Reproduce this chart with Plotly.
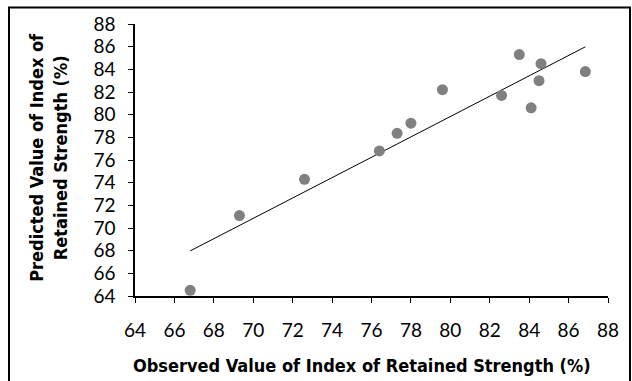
import numpy as np
import plotly.graph_objects as go

# Observed vs predicted index of retained strength (%)
observed = [66.8, 69.3, 72.6, 76.4, 77.3, 78.0, 79.6, 82.6, 83.5, 84.1, 84.5, 84.6, 86.85]
predicted = [64.5, 71.1, 74.3, 76.8, 78.35, 79.25, 82.2, 81.7, 85.3, 80.6, 83.0, 84.5, 83.8]

axis_ticks = list(range(64, 89, 2))

x_title = "Observed Value of Index of Retained Strength (%)"
y_title = "Predicted Value of Index of<br>Retained Strength (%)"

# Linear trend line through the data
slope, intercept = np.polyfit(observed, predicted, 1)
trend_x = [min(observed), max(observed)]
trend_y = [slope * v + intercept for v in trend_x]

W, H = 632, 381
L, R, T, B = 135, 24, 24, 84.5
pw, ph = W - L - R, H - T - B


def px_x(p):
    return (p - L) / pw


def px_y(p):
    return (H - B - p) / ph


tick_font = dict(family="Lato, Liberation Sans, Arial, sans-serif", size=19, color="#000000")
title_font = dict(family="Liberation Sans Narrow, Arial Narrow, DejaVu Sans Condensed, sans-serif",
                  size=18, color="#000000")

fig = go.Figure()
fig.add_trace(go.Scatter(
    x=trend_x, y=trend_y, mode="lines",
    line=dict(color="#000000", width=1), showlegend=False, hoverinfo="skip"))
fig.add_trace(go.Scatter(
    x=observed, y=predicted, mode="markers",
    marker=dict(color="#808080", size=11, line=dict(width=0)),
    showlegend=False))

axis_common = dict(
    range=[64, 88], tickvals=axis_ticks, ticktext=[str(t) for t in axis_ticks],
    showgrid=False, zeroline=False, showline=True, linecolor="#000000",
    ticks="outside", ticklen=5, tickcolor="#000000", tickwidth=1,
    tickfont=tick_font,
)

fig.update_layout(
    width=W, height=H,
    margin=dict(l=L, r=R, t=T, b=B, pad=0),
    paper_bgcolor="#ffffff", plot_bgcolor="#ffffff",
    xaxis=dict(axis_common, linewidth=2, ticklabelstandoff=11),
    yaxis=dict(axis_common, linewidth=1.5, ticklabelstandoff=9),
    shapes=[dict(
        type="rect", xref="paper", yref="paper",
        x0=px_x(9), x1=px_x(630), y0=px_y(395), y1=px_y(7.5),
        line=dict(color="#000000", width=2), fillcolor="rgba(0,0,0,0)", layer="below")],
    annotations=[
        dict(text="<b>" + x_title + "</b>", xref="paper", yref="paper",
             x=px_x(362), y=px_y(366), xanchor="center", yanchor="middle",
             showarrow=False, font=title_font),
        dict(text="<b>" + y_title + "</b>", xref="paper", yref="paper",
             x=px_x(48), y=px_y(158), xanchor="center", yanchor="middle",
             textangle=-90, showarrow=False, font=title_font),
    ],
)

fig.write_html("out.html")
